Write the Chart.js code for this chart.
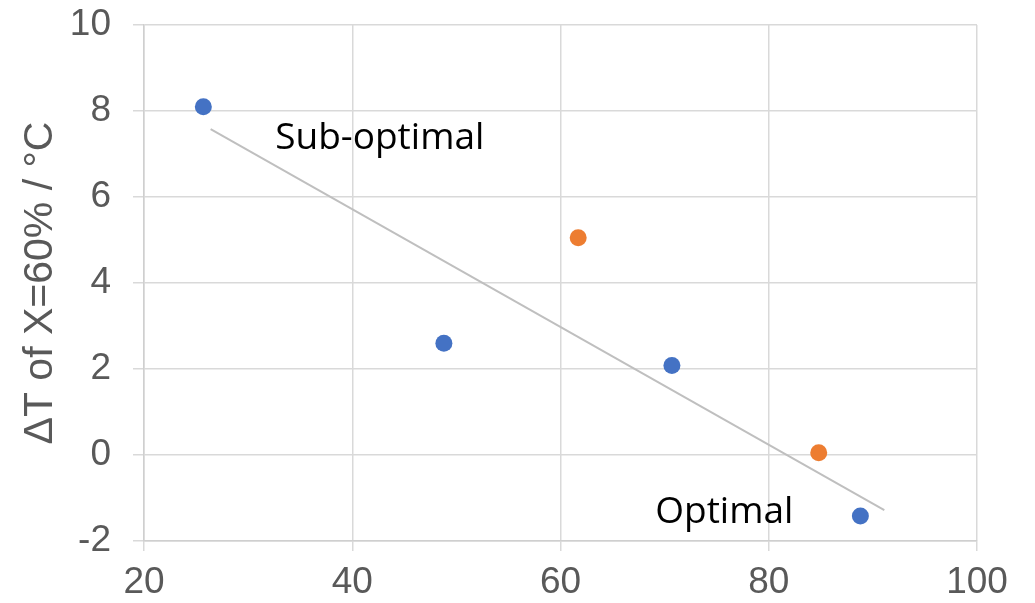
<!DOCTYPE html>
<html>
<head>
<meta charset="utf-8">
<script src="https://cdn.jsdelivr.net/npm/chart.js@4"></script>
<style>
  html, body { margin: 0; padding: 0; background: #fff; }
  #wrap { width: 1035px; height: 603px; }
</style>
</head>
<body>
<div id="wrap"><canvas id="myChart" width="1035" height="603"></canvas></div>
<script>
// values
var blueX = [25.7, 48.8, 70.7, 88.8];
var blueY = [8.1, 2.6, 2.08, -1.42];
var orangeX = [61.7, 84.8];
var orangeY = [5.05, 0.05];
var trendX = [26.4, 91.1];
var trendY = [7.58, -1.28];
var xTicks = [20, 40, 60, 80, 100];
var yTicks = [-2, 0, 2, 4, 6, 8, 10];
var notes = [
  { text: 'Sub-optimal', x: 32.6, y: 7.37 },
  { text: 'Optimal', x: 69.1, y: -1.33 }
];

function pts(xs, ys) {
  return xs.map(function(x, i){ return { x: x, y: ys[i] }; });
}

var gridColor = '#d9d9d9';
var tickColor = '#595959';
var axisFont = { family: '"Liberation Sans", Arial', size: 37 };

var notesPlugin = {
  id: 'notes',
  afterDatasetsDraw: function(chart) {
    var ctx = chart.ctx, sx = chart.scales.x, sy = chart.scales.y;
    ctx.save();
    ctx.fillStyle = '#000';
    ctx.font = '37px "Open Sans"';
    ctx.textAlign = 'left';
    ctx.textBaseline = 'middle';
    notes.forEach(function(n){
      ctx.fillText(n.text, sx.getPixelForValue(n.x), sy.getPixelForValue(n.y));
    });
    ctx.restore();
  }
};

// let the layout padding alone decide where the plot area sits
function noPad(s) {
  s.paddingTop = 0; s.paddingBottom = 0; s.paddingLeft = 0; s.paddingRight = 0;
}

var context = document.getElementById('myChart');
var chart = new Chart(context, {
  type: 'scatter',
  data: {
    datasets: [{
      label: 'trend',
      data: pts(trendX, trendY),
      showLine: true,
      borderColor: '#bfbfbf',
      borderWidth: 2,
      pointRadius: 0,
      fill: false
    }, {
      label: 'blue',
      data: pts(blueX, blueY),
      backgroundColor: '#4472C4',
      borderColor: '#4472C4',
      pointRadius: 8.5,
      borderWidth: 0
    }, {
      label: 'orange',
      data: pts(orangeX, orangeY),
      backgroundColor: '#ED7D31',
      borderColor: '#ED7D31',
      pointRadius: 8.5,
      borderWidth: 0
    }]
  },
  options: {
    responsive: false,
    animation: false,
    devicePixelRatio: 1,
    layout: { padding: { top: 25, right: 58, left: 16, bottom: 0 } },
    plugins: {
      legend: { display: false },
      tooltip: { enabled: false }
    },
    scales: {
      x: {
        type: 'linear',
        min: 20, max: 100,
        afterBuildTicks: function(s){ s.ticks = xTicks.map(function(v){ return { value: v }; }); },
        afterFit: function(s){ s.height = 62; noPad(s); },
        grid: { color: gridColor, lineWidth: 1.5, tickLength: 10 },
        border: { color: '#cfcfcf', width: 1.5 },
        ticks: { color: tickColor, font: axisFont, padding: 10, maxRotation: 0 }
      },
      y: {
        type: 'linear',
        min: -2, max: 10,
        afterBuildTicks: function(s){ s.ticks = yTicks.map(function(v){ return { value: v }; }); },
        afterFit: function(s){ s.width = 128; noPad(s); },
        grid: { color: gridColor, lineWidth: 1.5, tickLength: 11 },
        border: { color: '#cfcfcf', width: 1.5 },
        ticks: { color: tickColor, font: axisFont, padding: 22 },
        title: {
          display: true,
          text: 'ΔT of X=60% / °C',
          color: tickColor,
          font: { family: '"Liberation Sans", Arial', size: 41 },
          padding: { top: 0, bottom: 0 }
        }
      }
    }
  },
  plugins: [notesPlugin]
});
</script>
</body>
</html>
